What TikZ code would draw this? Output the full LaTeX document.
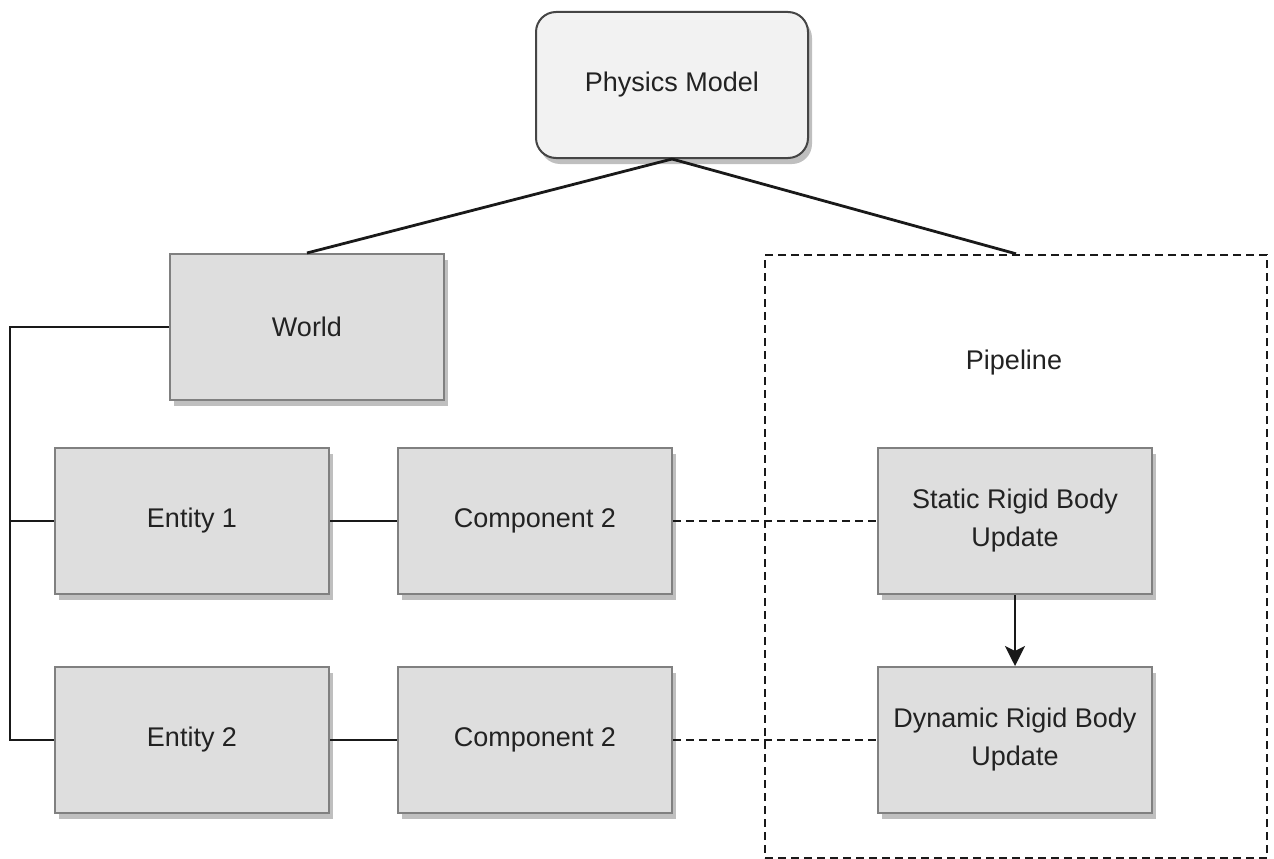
\documentclass[tikz,border=0pt]{standalone}
\usepackage{fontspec}
\setmainfont{Liberation Sans}
\usetikzlibrary{shadows,arrows.meta}
\definecolor{boxfill}{HTML}{DEDEDE}
\definecolor{boxline}{HTML}{808080}
\definecolor{topfill}{HTML}{F2F2F2}
\definecolor{topline}{HTML}{454545}
\definecolor{txt}{HTML}{222222}
\tikzset{
  sh/.style={drop shadow={shadow xshift=4pt,shadow yshift=-6pt,opacity=0.25,fill=black}},
  block/.style={rectangle,draw=boxline,line width=2pt,fill=boxfill,minimum width=274pt,minimum height=146pt,
    text=txt,font=\fontsize{27}{38}\selectfont,align=center,inner sep=0pt,sh},
  topbox/.style={block,fill=topfill,draw=topline,rounded corners=20pt,minimum width=272pt},
  conn/.style={line width=2.8pt,draw=black!90},
  dconn/.style={line width=2.6pt,draw=black!90,dash pattern=on 8pt off 5pt},
  group/.style={rectangle,draw=black!90,line width=2.4pt,dash pattern=on 8pt off 5pt,
    minimum width=502pt,minimum height=603pt,inner sep=0pt},
}
\begin{document}
\begin{tikzpicture}[x=1pt,y=-1pt]
\useasboundingbox (0,0) rectangle (1274,859);
\node[group] (pipe) at (1016,556.5) {};
\node[text=txt,font=\fontsize{27}{30}\selectfont] (pipelbl) at (1014,363) {Pipeline};
\node[topbox] (phys) at (672,85) {Physics Model};
\node[block] (world) at (307,327) {World};
\node[block] (e1) at (192,521) {Entity 1};
\node[block] (c1) at (535,521) {Component 2};
\node[block] (s) at (1015,521) {Static Rigid Body\\Update};
\node[block] (e2) at (192,740) {Entity 2};
\node[block] (c2) at (535,740) {Component 2};
\node[block] (d) at (1015,740) {Dynamic Rigid Body\\Update};
\coordinate (bt) at (10,327);
\draw[conn] (phys.south) -- (world.north);
\draw[conn] (phys.south) -- (pipe.north);
\draw[conn] (world.west) -- (bt) |- (e2.west);
\draw[conn] (bt |- e1.west) -- (e1.west);
\draw[conn] (e1.east) -- (c1.west);
\draw[conn] (e2.east) -- (c2.west);
\draw[dconn] (c1.east) -- (s.west);
\draw[dconn] (c2.east) -- (d.west);
\draw[conn,-{Stealth[length=20pt,width=20pt,inset=5pt]}] (s.south) -- (d.north);
\end{tikzpicture}
\end{document}
